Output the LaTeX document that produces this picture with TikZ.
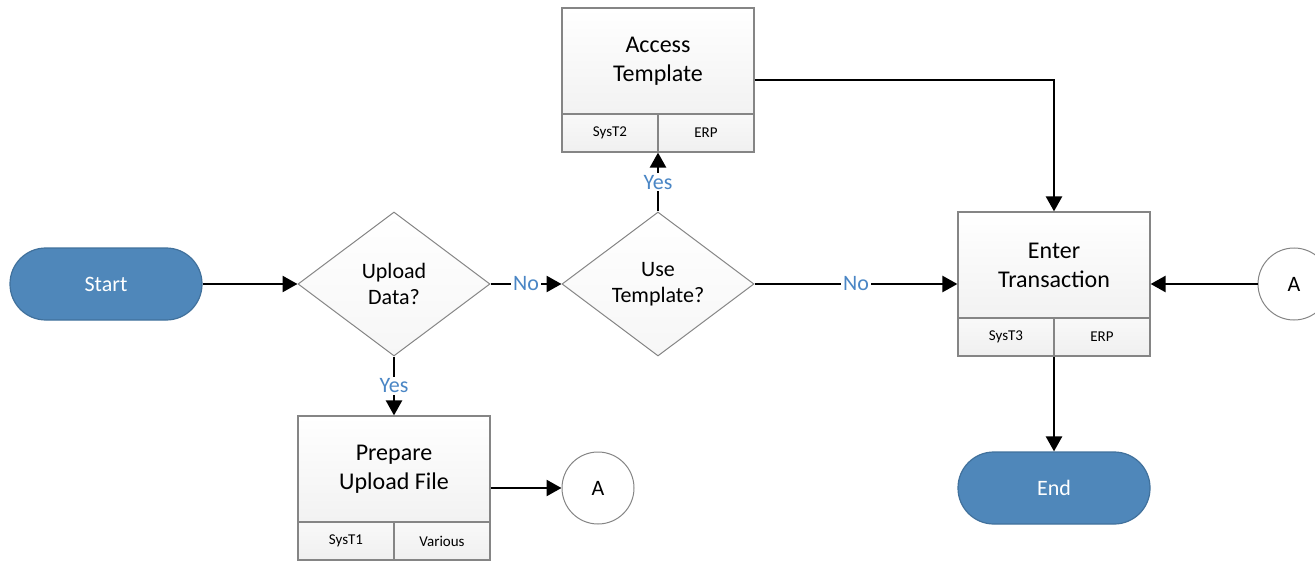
\documentclass[tikz,border=0pt]{standalone}
\usepackage{fontspec}
\setmainfont{Carlito}
\usetikzlibrary{positioning, shapes.geometric, arrows.meta, calc}
\definecolor{termblue}{HTML}{4F87BA}
\definecolor{termedge}{HTML}{41719C}
\definecolor{labelblue}{HTML}{4A86C5}
\definecolor{boxedge}{HTML}{858585}

\begin{document}
\begin{tikzpicture}[x=0.5pt, y=-0.5pt,
    terminal/.style={draw=termedge, line width=0.6pt, fill=termblue, rounded corners=17.9pt,
        minimum width=96pt, minimum height=36pt, text=white, font=\fontsize{11}{13}\selectfont},
    decision/.style={diamond, draw=boxedge, line width=0.5pt, top color=white, bottom color=gray!7,
        minimum width=96pt, minimum height=72pt, aspect=1.333, inner sep=0pt, align=center,
        font=\fontsize{11}{13}\selectfont},
    procbox/.style={draw=boxedge, line width=0.6pt, top color=white, bottom color=gray!14,
        minimum width=96pt, minimum height=72pt, inner sep=0pt},
    proctext/.style={align=center, font=\fontsize{12}{14.5}\selectfont},
    syscell/.style={draw=boxedge, line width=0.6pt, top color=gray!5, bottom color=gray!12,
        minimum width=48pt, minimum height=19pt, inner sep=0pt, font=\fontsize{7.5}{9}\selectfont},
    offpage/.style={circle, draw=boxedge, line width=0.5pt, fill=white, minimum size=36pt,
        inner sep=0pt, font=\fontsize{11}{13}\selectfont},
    flow/.style={line width=1.25pt, -{Triangle[length=7.5pt, width=8pt]}},
    answer/.style={fill=white, inner sep=1pt, text=labelblue, font=\fontsize{11}{13}\selectfont}]

    \useasboundingbox (0,0) rectangle (1315,561);

    % Terminals
    \node[terminal] (start) at (106,284) {Start};
    \node[terminal] (end) at (1054,488) {End};

    % Decisions
    \node[decision] (upload) at (394,284) {Upload\\Data?};
    \node[decision] (usetpl) at (658,284) {Use\\Template?};

    % Process boxes with system strip
    \foreach \name/\pos/\txt/\sysa/\sysb in {access/{658,80}/{Access\\Template}/SysT2/ERP,
            enter/{1054,284}/{Enter\\Transaction}/SysT3/ERP,
            prepare/{394,488}/{Prepare\\Upload File}/SysT1/Various} {
        \node[procbox] (\name) at (\pos) {};
        \node[proctext] (\name-txt) at ($(\name.center)+(0,-19)$) {\txt};
        \node[syscell, anchor=south west] (\name-sa) at (\name.south west) {\sysa};
        \node[syscell, anchor=south east] (\name-sb) at (\name.south east) {\sysb};
    }

    % Off-page connectors
    \node[offpage] (a1) at (598,488) {A};
    \node[offpage] (a2) at (1294,284) {A};

    % Flow
    \draw[flow] (start.east) -- (upload.west);
    \draw[flow] (upload.east) -- node[answer] {No} (usetpl.west);
    \draw[flow] (upload.south) -- node[answer] {Yes} (prepare.north);
    \draw[flow] (usetpl.north) -- node[answer] {Yes} (access.south);
    \draw[flow] (usetpl.east) -- node[answer] {No} (enter.west);
    \draw[flow] (access.east) -| (enter.north);
    \draw[flow] (a2.west) -- (enter.east);
    \draw[flow] (enter.south) -- (end.north);
    \draw[flow] (prepare.east) -- (a1.west);

\end{tikzpicture}
\end{document}
